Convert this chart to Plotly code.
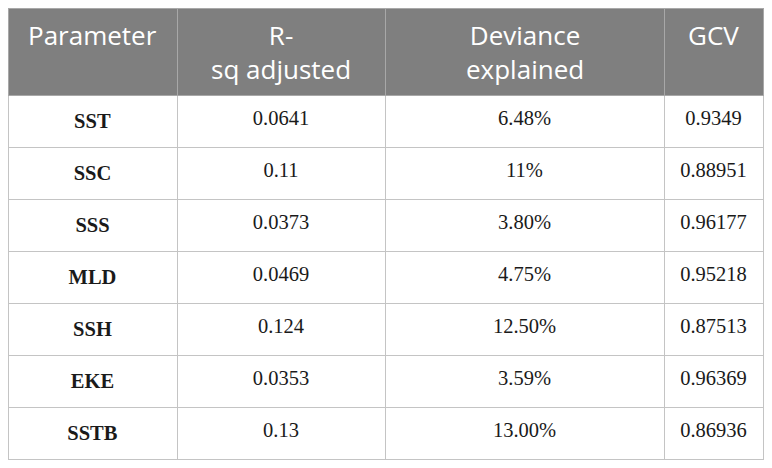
import plotly.graph_objects as go

headers = ["Parameter", "R-<br>sq adjusted", "Deviance<br>explained", "GCV"]
parameters = ["SST", "SSC", "SSS", "MLD", "SSH", "EKE", "SSTB"]
rsq_adjusted = ["0.0641", "0.11", "0.0373", "0.0469", "0.124", "0.0353", "0.13"]
deviance_explained = ["6.48%", "11%", "3.80%", "4.75%", "12.50%", "3.59%", "13.00%"]
gcv = ["0.9349", "0.88951", "0.96177", "0.95218", "0.87513", "0.96369", "0.86936"]

W, H = 772, 468
col_widths = [169, 208, 279, 99]
header_h = 87
row_h = 52
table_w = sum(col_widths)
text_shift = 7
clear = "rgba(0,0,0,0)"
n = len(parameters)

# grid: fills and borders
fig = go.Figure(go.Table(
    domain=dict(x=[0, table_w / W], y=[0, 1]),
    columnwidth=col_widths,
    header=dict(
        values=["" for _ in headers],
        fill_color="#7f7f7f",
        line=dict(color="#a8a8a8", width=1),
        height=header_h,
    ),
    cells=dict(
        values=[[""] * n for _ in headers],
        fill_color="white",
        line=dict(color="#c4c4c4", width=1),
        height=row_h,
    ),
))

# cell texts, in a transparent table laid over the grid
fig.add_trace(go.Table(
    domain=dict(x=[0, table_w / W], y=[0, 1 - text_shift / H]),
    columnwidth=col_widths,
    header=dict(
        values=["" for _ in headers],
        fill_color=clear,
        line=dict(color=clear, width=0),
        height=header_h,
    ),
    cells=dict(
        values=[["<b>%s</b>" % p for p in parameters], rsq_adjusted,
                deviance_explained, gcv],
        fill_color=clear,
        line=dict(color=clear, width=0),
        font=dict(family="Liberation Serif", size=20.5, color="#1a1a1a"),
        align="center",
        height=row_h,
    ),
))

x0 = 0
for name, w in zip(headers, col_widths):
    two = "<br>" in name
    yc = header_h / 2 if two else header_h / 2 - 17
    fig.add_annotation(
        x=(x0 + w / 2) / W, y=1 - yc / H, xref="paper", yref="paper",
        text=name, showarrow=False, align="center",
        xanchor="center", yanchor="middle",
        font=dict(family="Open Sans", size=26, color="white"),
    )
    x0 += w

fig.update_layout(width=W, height=H, margin=dict(l=0, r=0, t=0, b=0),
                  paper_bgcolor="white")
fig.write_html("out.html")
